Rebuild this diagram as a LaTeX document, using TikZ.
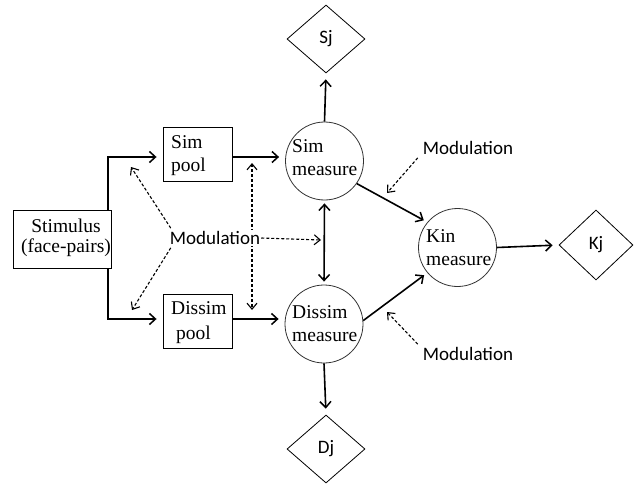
\documentclass[tikz,border=0pt]{standalone}
\usepackage{fontspec}
\setmainfont{Liberation Serif}
\newfontfamily\labelfont{Carlito}
\usetikzlibrary{arrows.meta,shapes.geometric}

\tikzset{
  barb/.tip={Straight Barb[length=6pt,width=11pt,line width=1.5pt]},
  lightbarb/.tip={Straight Barb[length=6pt,width=10pt,line width=1.1pt]},
  flow/.style={-barb, line width=1.6pt, shorten >=6pt},
  bothflow/.style={barb-barb, line width=1.6pt},
  mod/.style={-lightbarb, line width=1.1pt, dash pattern=on 3pt off 2pt},
  bothmod/.style={lightbarb-lightbarb, line width=1.1pt, dash pattern=on 3pt off 2pt},
  pool/.style={draw, line width=0.9pt, rectangle, minimum width=69pt, minimum height=54pt, inner sep=0pt},
  measure/.style={draw=black!80, line width=0.8pt, circle, minimum size=78pt, inner sep=0pt},
  score/.style={draw, line width=0.8pt, diamond, minimum width=78pt, minimum height=68pt, inner sep=0pt, font=\labelfont\fontsize{19}{22}\selectfont},
  serif/.style={font=\fontsize{19.5}{23}\selectfont, align=left, inner sep=0pt},
  modlabel/.style={font=\labelfont\fontsize{19}{22}\selectfont, inner sep=1pt}
}

\begin{document}
\begin{tikzpicture}[x=1pt, y=-1pt]
\useasboundingbox (0,0) rectangle (636,484);

% stimulus and the two pools
\node[draw, line width=0.9pt, rectangle, minimum width=98pt, minimum height=58pt] (stim) at (62,239) {};
\node[serif, align=center, font=\fontsize{19.5}{20}\selectfont] (stimtxt) at (66,238) {Stimulus\\(face-pairs)};

\node[pool] (simpool) at (197.5,154) {};
\node[serif, anchor=west, font=\fontsize{19.5}{23}\selectfont] (simpooltxt) at (171,156) {Sim\\pool};

\node[pool] (dispool) at (197.5,321) {};
\node[serif, anchor=west, font=\fontsize{19.5}{25}\selectfont] (dispooltxt) at (171,323) {Dissim\\\hspace*{5pt}pool};

% measures
\node[measure] (simm) at (324.5,161) {};
\node[serif, anchor=west] (simmtxt) at (292,158) {Sim\\measure};

\node[measure] (dism) at (324,324) {};
\node[serif, anchor=west] (dismtxt) at (292,324) {Dissim\\measure};

\node[measure] (kinm) at (457.5,247.5) {};
\node[serif, anchor=west] (kinmtxt) at (426,248) {Kin\\measure};

% judgements
\node[score] (sj) at (326,39) {Sj};
\node[score] (dj) at (326,449) {Dj};
\node[score, minimum width=74pt, minimum height=70pt] (kj) at (596,245) {Kj};

% stimulus feeds both pools
\coordinate (split) at (108,0);
\draw[flow] (stim.north -| split) |- ([yshift=-3pt]simpool.west);
\draw[flow] (stim.south -| split) |- ([yshift=2pt]dispool.west);

% pools feed their measures
\draw[flow] ([yshift=-3pt]simpool.east) -- ([yshift=-3pt]simpool.east -| simm.west);
\draw[flow] ([yshift=2pt]dispool.east) -- ([yshift=2pt]dispool.east -| dism.west);

% measures to judgements
\draw[flow] (simm.north) -- (sj.south);
\draw[flow] (dism.south) -- (dj.north);
\draw[flow] (kinm.east) -- (kj.west);

% coupling between the two measures
\draw[bothflow, shorten <=3pt, shorten >=3pt] (simm.south) -- (dism.north);

% both measures combine into kinship
\draw[flow, shorten >=4pt] (simm.-35) -- (kinm.140);
\draw[flow, shorten >=4pt] (dism.5) -- (kinm.-140);

% modulation of the pools and the coupling
\coordinate (pooltop) at (252,163);
\coordinate (poolbot) at (252,310);
\draw[bothmod] (pooltop) -- (poolbot);
\node[modlabel, fill=white] (modc) at (215,238) {Modulation};
\coordinate (upleft) at (131,167);
\coordinate (downleft) at (132,310);
\coordinate (couple) at (321,240);
\draw[mod] (modc.north west) ++(2,-2) coordinate (mcnw) (mcnw) -- (upleft);
\draw[mod] (modc.south west) ++(2,2) coordinate (mcsw) (mcsw) -- (downleft);
\draw[mod] (modc.east) -- (couple);

% modulation of the kinship inputs
\node[modlabel] (modu) at (468,148) {Modulation};
\node[modlabel] (modl) at (468,354) {Modulation};
\coordinate (upin) at (387,193);
\coordinate (lowin) at (387,312);
\draw[mod] ([xshift=-4pt,yshift=-2pt]modu.south west) -- (upin);
\draw[mod] ([xshift=-4pt,yshift=2pt]modl.north west) -- (lowin);
\end{tikzpicture}
\end{document}
